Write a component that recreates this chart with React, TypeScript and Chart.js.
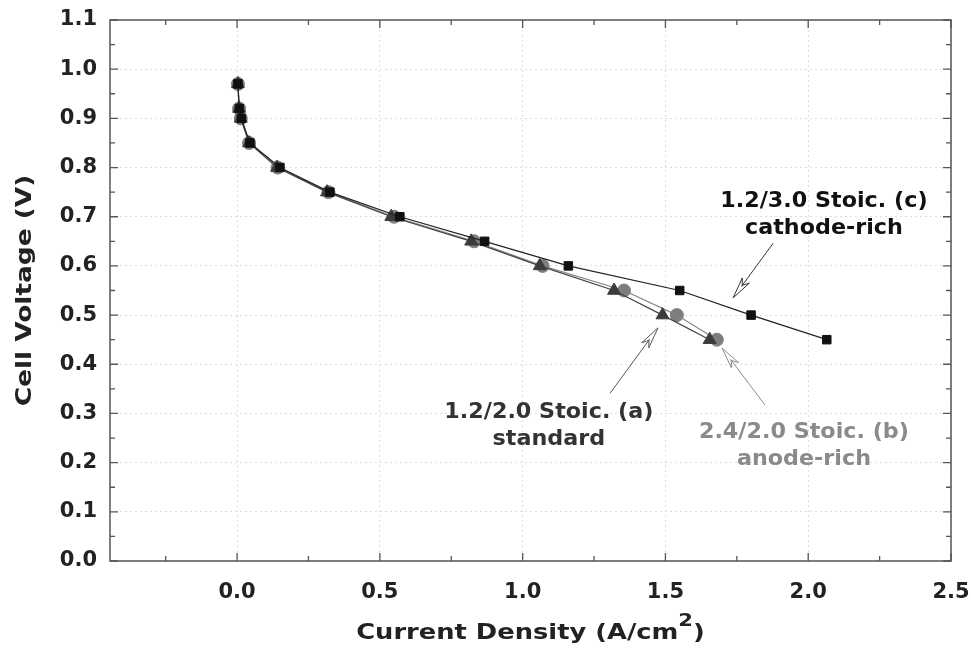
import React, { useEffect, useRef } from 'react';
import { Chart, registerables } from 'chart.js';

Chart.register(...registerables);

// ---- data ----
const voltage = [0.97, 0.92, 0.9, 0.85, 0.8, 0.75, 0.7, 0.65, 0.6, 0.55, 0.5, 0.45];
const currentStandard = [0.003, 0.007, 0.013, 0.042, 0.14, 0.315, 0.54, 0.82, 1.06, 1.32, 1.49, 1.655];
const currentAnodeRich = [0.003, 0.007, 0.013, 0.042, 0.142, 0.32, 0.55, 0.83, 1.07, 1.355, 1.54, 1.68];
const currentCathodeRich = [0.003, 0.008, 0.015, 0.045, 0.15, 0.325, 0.57, 0.867, 1.16, 1.55, 1.8, 2.065];

const xTickValues = [0, 0.5, 1.0, 1.5, 2.0, 2.5];
const yTickValues = [0, 0.1, 0.2, 0.3, 0.4, 0.5, 0.6, 0.7, 0.8, 0.9, 1.0, 1.1];
const xMin = -0.445;
const xMax = 2.5;
const yMin = 0;
const yMax = 1.1;

const xTitle = 'Current Density (A/cm';
const xTitleSup = '2';
const xTitleEnd = ')';
const yTitle = 'Cell Voltage (V)';

// annotations (anchor positions in data units)
const annotations = [
  { lines: ['1.2/3.0 Stoic. (c)', 'cathode-rich'], x: 2.055, y: 0.73, color: '#111111', arrowFrom: [1.877, 0.646], arrowTo: [1.737, 0.535], arrowColor: '#333333' },
  { lines: ['1.2/2.0 Stoic. (a)', 'standard'], x: 1.092, y: 0.301, color: '#333333', arrowFrom: [1.306, 0.341], arrowTo: [1.474, 0.474], arrowColor: '#555555' },
  { lines: ['2.4/2.0 Stoic. (b)', 'anode-rich'], x: 1.985, y: 0.262, color: '#8a8a8a', arrowFrom: [1.849, 0.317], arrowTo: [1.698, 0.433], arrowColor: '#8a8a8a' },
];

const FONT = '"DejaVu Sans", "Liberation Sans", sans-serif';

function toPoints(xs: number[]) {
  return voltage.map((v, i) => ({ x: xs[i], y: v }));
}

function drawArrow(ctx: CanvasRenderingContext2D, x1: number, y1: number, x2: number, y2: number, color: string) {
  const ang = Math.atan2(y2 - y1, x2 - x1);
  const len = 22;
  const spread = 0.2;
  ctx.save();
  ctx.strokeStyle = color;
  ctx.lineWidth = 1;
  ctx.beginPath();
  ctx.moveTo(x1, y1);
  ctx.lineTo(x2 - Math.cos(ang) * 14, y2 - Math.sin(ang) * 14);
  ctx.stroke();
  const lx = x2 - len * Math.cos(ang - spread);
  const ly = y2 - len * Math.sin(ang - spread);
  const rx = x2 - len * Math.cos(ang + spread);
  const ry = y2 - len * Math.sin(ang + spread);
  const bx = x2 - len * 0.7 * Math.cos(ang);
  const by = y2 - len * 0.7 * Math.sin(ang);
  ctx.beginPath();
  ctx.moveTo(x2, y2);
  ctx.lineTo(lx, ly);
  ctx.lineTo(bx, by);
  ctx.lineTo(rx, ry);
  ctx.closePath();
  ctx.stroke();
  ctx.restore();
}

function stretchText(ctx: CanvasRenderingContext2D, text: string, x: number, y: number, stretch: number) {
  ctx.save();
  ctx.translate(x, y);
  ctx.scale(stretch, 1);
  ctx.fillText(text, 0, 0);
  ctx.restore();
}

const decorPlugin = {
  id: 'decor',
  afterDatasetsDraw(chart: any) {
    const ctx: CanvasRenderingContext2D = chart.ctx;
    const { left, right, top, bottom } = chart.chartArea;
    const xs = chart.scales.x;
    const ys = chart.scales.y;

    // frame
    ctx.save();
    ctx.strokeStyle = '#555555';
    ctx.lineWidth = 1.5;
    ctx.strokeRect(left, top, right - left, bottom - top);

    // inward ticks on all four sides
    const xMinor: number[] = [];
    const xStep = xTickValues[1] - xTickValues[0];
    for (let v = xTickValues[0] - xStep / 2; v > xMin; v -= xStep) xMinor.push(v);
    for (let i = 0; i < xTickValues.length - 1; i++) xMinor.push((xTickValues[i] + xTickValues[i + 1]) / 2);
    const yMinor: number[] = [];
    for (let i = 0; i < yTickValues.length - 1; i++) yMinor.push((yTickValues[i] + yTickValues[i + 1]) / 2);

    ctx.lineWidth = 1.3;
    ctx.beginPath();
    const xTick = (v: number, l: number) => {
      const p = xs.getPixelForValue(v);
      ctx.moveTo(p, bottom);
      ctx.lineTo(p, bottom - l);
      ctx.moveTo(p, top);
      ctx.lineTo(p, top + l);
    };
    const yTick = (v: number, l: number) => {
      const p = ys.getPixelForValue(v);
      ctx.moveTo(left, p);
      ctx.lineTo(left + l, p);
      ctx.moveTo(right, p);
      ctx.lineTo(right - l, p);
    };
    xTickValues.forEach((v) => xTick(v, 8));
    xMinor.forEach((v) => xTick(v, 5));
    yTickValues.forEach((v) => yTick(v, 8));
    yMinor.forEach((v) => yTick(v, 5));
    ctx.stroke();
    ctx.restore();

    // annotations
    annotations.forEach((a) => {
      drawArrow(
        ctx,
        xs.getPixelForValue(a.arrowFrom[0]),
        ys.getPixelForValue(a.arrowFrom[1]),
        xs.getPixelForValue(a.arrowTo[0]),
        ys.getPixelForValue(a.arrowTo[1]),
        a.arrowColor
      );
      ctx.save();
      ctx.fillStyle = a.color;
      ctx.font = `bold 21px ${FONT}`;
      ctx.textAlign = 'center';
      ctx.textBaseline = 'middle';
      const cx = xs.getPixelForValue(a.x);
      const cy = ys.getPixelForValue(a.y);
      a.lines.forEach((line, i) => stretchText(ctx, line, cx, cy + i * 27, 1.06));
      ctx.restore();
    });

    // axis titles
    ctx.save();
    ctx.fillStyle = '#222222';
    const stretch = 1.17;
    ctx.font = `bold 22px ${FONT}`;
    ctx.textBaseline = 'alphabetic';
    ctx.textAlign = 'left';
    const w1 = ctx.measureText(xTitle).width;
    const w3 = ctx.measureText(xTitleEnd).width;
    ctx.font = `bold 18px ${FONT}`;
    const w2 = ctx.measureText(xTitleSup).width;
    const total = (w1 + w2 + w3) * stretch;
    const cx = (left + right) / 2;
    let x0 = cx - total / 2;
    const base = 639;
    ctx.font = `bold 22px ${FONT}`;
    stretchText(ctx, xTitle, x0, base, stretch);
    x0 += w1 * stretch;
    ctx.font = `bold 18px ${FONT}`;
    stretchText(ctx, xTitleSup, x0, base - 13, stretch);
    x0 += w2 * stretch;
    ctx.font = `bold 22px ${FONT}`;
    stretchText(ctx, xTitleEnd, x0, base, stretch);

    ctx.translate(25, (top + bottom) / 2);
    ctx.rotate(-Math.PI / 2);
    ctx.textAlign = 'center';
    ctx.textBaseline = 'middle';
    ctx.font = `bold 22px ${FONT}`;
    stretchText(ctx, yTitle, 0, 0, 1.2);
    ctx.restore();
  },
};

export default function App() {
  const ref = useRef<HTMLCanvasElement>(null);

  useEffect(() => {
    if (!ref.current) return;
    const tickFont = { family: FONT, size: 21, weight: 'bold' as const };
    const chart = new Chart(ref.current, {
      type: 'scatter',
      data: {
        datasets: [
          {
            label: '1.2/3.0 Stoic. (c) cathode-rich',
            data: toPoints(currentCathodeRich),
            showLine: true,
            borderColor: '#222222',
            borderWidth: 1.2,
            backgroundColor: '#111111',
            pointBackgroundColor: '#111111',
            pointBorderColor: '#111111',
            pointStyle: 'rect',
            pointRadius: 6,
            pointBorderWidth: 1,
            order: 0,
          },
          {
            label: '1.2/2.0 Stoic. (a) standard',
            data: toPoints(currentStandard),
            showLine: true,
            borderColor: '#444444',
            borderWidth: 1.2,
            backgroundColor: '#3c3c3c',
            pointBackgroundColor: '#3c3c3c',
            pointBorderColor: '#3c3c3c',
            pointStyle: 'triangle',
            pointRadius: 7.5,
            pointBorderWidth: 1,
            order: 1,
          },
          {
            label: '2.4/2.0 Stoic. (b) anode-rich',
            data: toPoints(currentAnodeRich),
            showLine: true,
            borderColor: '#888888',
            borderWidth: 1.2,
            backgroundColor: '#7e7e7e',
            pointBackgroundColor: '#7e7e7e',
            pointBorderColor: '#7e7e7e',
            pointStyle: 'circle',
            pointRadius: 6.5,
            pointBorderWidth: 1,
            order: 2,
          },
        ],
      },
      options: {
        animation: false,
        responsive: false,
        devicePixelRatio: 1,
        layout: { padding: { top: 20, right: 20, left: 0, bottom: 0 } },
        plugins: {
          legend: { display: false },
          tooltip: { enabled: false },
        },
        scales: {
          x: {
            type: 'linear',
            min: xMin,
            max: xMax,
            afterBuildTicks: (s: any) => {
              s.ticks = xTickValues.map((v) => ({ value: v }));
            },
            afterFit: (s: any) => {
              s.height = 87;
              s.paddingLeft = 0;
              s.paddingRight = 0;
            },
            ticks: {
              callback: (v: any) => Number(v).toFixed(1),
              font: tickFont,
              color: '#222222',
              padding: 19,
              maxRotation: 0,
              autoSkip: false,
            },
            grid: { color: '#dedede', lineWidth: 1, drawTicks: false },
            border: { display: false, dash: [2, 3] },
          },
          y: {
            type: 'linear',
            min: yMin,
            max: yMax,
            afterBuildTicks: (s: any) => {
              s.ticks = yTickValues.map((v) => ({ value: v }));
            },
            afterFit: (s: any) => {
              s.width = 110;
              s.paddingTop = 0;
              s.paddingBottom = 0;
            },
            ticks: {
              callback: (v: any) => Number(v).toFixed(1),
              font: tickFont,
              color: '#222222',
              padding: 13,
              autoSkip: false,
            },
            grid: { color: '#dedede', lineWidth: 1, drawTicks: false },
            border: { display: false, dash: [2, 3] },
          },
        },
      },
      plugins: [decorPlugin],
    } as any);
    return () => chart.destroy();
  }, []);

  return (
    <div style={{ position: 'absolute', left: 0, top: 0, width: 971, height: 648, background: '#ffffff' }}>
      <canvas ref={ref} width={971} height={648} style={{ display: 'block', width: 971, height: 648 }} />
    </div>
  );
}
